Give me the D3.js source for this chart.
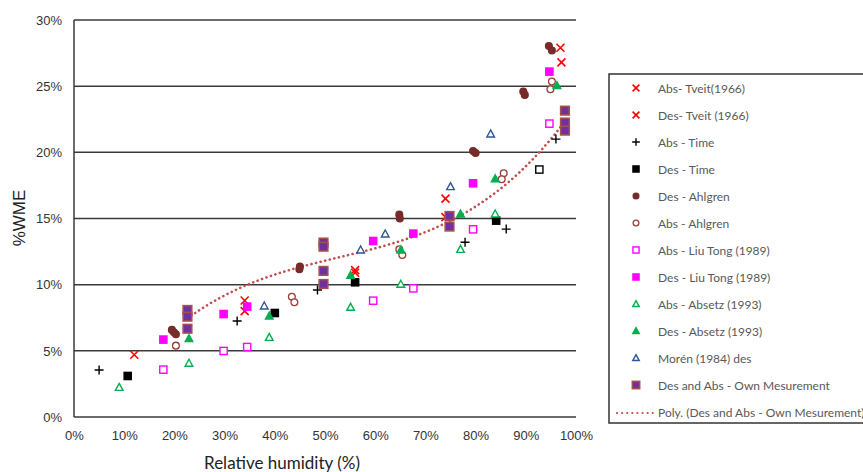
<!DOCTYPE html>
<html>
<head>
<meta charset="utf-8">
<script src="https://cdn.jsdelivr.net/npm/d3@7"></script>
<style>
  html, body { margin: 0; padding: 0; background: #fff; }
  svg { display: block; }
</style>
</head>
<body>
<svg id="chart" width="863" height="472"></svg>
<script>
// Equilibrium moisture content (%WME) versus relative humidity (%), [RH, WME]
const absTveit   = [[12, 4.7], [34, 8.0], [56, 10.9], [74, 15.1], [97.1, 26.8]];
const desTveit   = [[34, 8.8], [56, 11.1], [74, 16.5], [96.9, 27.9]];
const absTime    = [[5, 3.55], [32.5, 7.26], [48.5, 9.6], [77.9, 13.2], [86.1, 14.2], [96, 21.0]];
const desTime    = [[10.7, 3.1], [40, 7.86], [56, 10.18], [84.1, 14.84]];
const desTimeOpen = [[92.7, 18.7]];
const desAhlgren = [[19.5, 6.58], [19.9, 6.4], [20.3, 6.25], [45, 11.36], [44.9, 11.16],
                    [64.8, 15.29], [64.9, 15.0], [79.5, 20.1], [80, 19.95],
                    [89.5, 24.6], [89.8, 24.34], [94.6, 28.04], [95.2, 27.69]];
const absAhlgren = [[20.3, 5.39], [43.4, 9.09], [43.9, 8.67], [64.8, 12.67], [65.4, 12.24],
                    [85.6, 18.42], [85.2, 17.97], [95.2, 25.35], [94.9, 24.77]];
const absLiuTong = [[17.8, 3.58], [29.8, 4.99], [34.5, 5.29], [59.6, 8.79], [67.6, 9.72],
                    [79.5, 14.18], [94.7, 22.17]];
const desLiuTong = [[17.8, 5.85], [29.8, 7.78], [34.5, 8.34], [59.6, 13.3], [67.6, 13.86],
                    [79.5, 17.66], [94.7, 26.1]];
const absAbsetz  = [[9, 2.24], [22.9, 4.06], [38.9, 6.02], [55.1, 8.29], [65.1, 10.03],
                    [77, 12.67], [83.9, 15.34]];
const desAbsetz  = [[22.9, 5.92], [38.9, 7.63], [55.1, 10.71], [65.1, 12.62], [77, 15.34],
                    [83.9, 18.0], [96.2, 25.04]];
const morenDes   = [[37.9, 8.39], [57.1, 12.62], [62, 13.83], [75, 17.41], [83, 21.39]];
const ownMeasure = [[22.6, 8.09], [22.6, 7.58], [22.6, 6.67],
                    [49.7, 13.18], [49.7, 12.87], [49.7, 11.04], [49.7, 10.05],
                    [74.8, 15.19], [74.8, 14.39],
                    [97.8, 23.15], [97.8, 22.25], [97.8, 21.64]];

const xTicks = [0, 10, 20, 30, 40, 50, 60, 70, 80, 90, 100];
const yTicks = [0, 5, 10, 15, 20, 25, 30];

const legendLabels = [
  "Abs- Tveit(1966)", "Des- Tveit (1966)", "Abs - Time", "Des - Time",
  "Des - Ahlgren", "Abs - Ahlgren", "Abs - Liu Tong (1989)", "Des - Liu Tong (1989)",
  "Abs - Absetz (1993)", "Des - Absetz (1993)", "Morén (1984) des",
  "Des and Abs - Own Mesurement", "Poly.  (Des and Abs - Own Mesurement)"
];

// marker styles
const series = [
  { data: absTveit,   shape: "x",      stroke: "#ff0000", fill: "none" },
  { data: desTveit,   shape: "x",      stroke: "#ff0000", fill: "none" },
  { data: absTime,    shape: "plus",   stroke: "#000000", fill: "none" },
  { data: desTime,    shape: "square", stroke: "#000000", fill: "#000000" },
  { data: desAhlgren, shape: "circle", stroke: "#772c2a", fill: "#772c2a" },
  { data: absAhlgren, shape: "circle", stroke: "#9c3f3c", fill: "#ffffff" },
  { data: absLiuTong, shape: "square", stroke: "#ff00ff", fill: "#ffffff" },
  { data: desLiuTong, shape: "square", stroke: "#ff00ff", fill: "#ff00ff" },
  { data: absAbsetz,  shape: "tri",    stroke: "#00b050", fill: "#ffffff" },
  { data: desAbsetz,  shape: "tri",    stroke: "#00b050", fill: "#00b050" },
  { data: morenDes,   shape: "tri",    stroke: "#2f5597", fill: "#ffffff" },
  { data: ownMeasure, shape: "square", stroke: "#a5504a", fill: "#7030a0", big: true }
];

const svg = d3.select("#chart");
const x = d3.scaleLinear().domain([0, 100]).range([74, 576]);
const y = d3.scaleLinear().domain([0, 30]).range([417, 20]);

// horizontal gridlines
svg.append("g")
  .selectAll("line")
  .data(yTicks)
  .join("line")
  .attr("x1", x(0)).attr("x2", x(100))
  .attr("y1", d => y(d)).attr("y2", d => y(d))
  .attr("stroke", "#3a3a3a").attr("stroke-width", 1.5);

// vertical axis line
svg.append("line")
  .attr("x1", x(0)).attr("x2", x(0)).attr("y1", y(0)).attr("y2", y(30))
  .attr("stroke", "#3a3a3a").attr("stroke-width", 1.5);

const yAxis = svg.append("g")
  .attr("transform", `translate(${x(0)},0)`)
  .call(d3.axisLeft(y).tickValues(yTicks).tickSize(0).tickPadding(12).tickFormat(d => d + "%"));
const xAxis = svg.append("g")
  .attr("transform", `translate(0,${y(0)})`)
  .call(d3.axisBottom(x).tickValues(xTicks).tickSize(0).tickPadding(14).tickFormat(d => d + "%"));
[yAxis, xAxis].forEach(g => {
  g.select(".domain").remove();
  g.selectAll("text")
    .attr("font-family", "'Liberation Sans', Arial, sans-serif")
    .attr("font-size", 13).attr("fill", "#333");
});

// axis titles
svg.append("text")
  .attr("x", 282).attr("y", 469)
  .attr("text-anchor", "middle")
  .attr("font-family", "Lato, 'Open Sans', sans-serif")
  .attr("font-size", 17).attr("fill", "#222")
  .text("Relative humidity (%)");
svg.append("text")
  .attr("transform", "translate(25,218) rotate(-90)")
  .attr("text-anchor", "middle")
  .attr("font-family", "'Liberation Sans', Arial, sans-serif")
  .attr("font-size", 17).attr("fill", "#222")
  .text("%WME");

// marker drawing
function drawMarker(g, s, scale) {
  const k = scale || 1;
  if (s.shape === "x") {
    const r = 4 * k;
    g.append("path").attr("d", `M${-r},${-r}L${r},${r}M${-r},${r}L${r},${-r}`)
      .attr("stroke", s.stroke).attr("stroke-width", 1.6).attr("fill", "none");
  } else if (s.shape === "plus") {
    const r = 4.5 * k;
    g.append("path").attr("d", `M${-r},0L${r},0M0,${-r}L0,${r}`)
      .attr("stroke", s.stroke).attr("stroke-width", 1.4).attr("fill", "none");
  } else if (s.shape === "square") {
    const r = (s.big ? 4.3 : 3.6) * k;
    g.append("rect").attr("x", -r).attr("y", -r).attr("width", 2 * r).attr("height", 2 * r)
      .attr("fill", s.fill).attr("stroke", s.stroke).attr("stroke-width", s.big ? 1.6 : 1.4);
  } else if (s.shape === "circle") {
    g.append("circle").attr("r", 3.4 * k)
      .attr("fill", s.fill).attr("stroke", s.stroke).attr("stroke-width", 1.3);
  } else if (s.shape === "tri") {
    const r = 4 * k;
    g.append("path").attr("d", `M0,${-r}L${r * 0.95},${r * 0.75}L${-r * 0.95},${r * 0.75}Z`)
      .attr("fill", s.fill).attr("stroke", s.stroke).attr("stroke-width", 1.4)
      .attr("stroke-linejoin", "miter");
  }
}

// polynomial trend (order 3, least squares) of own measurements
function polyFit(pts, order) {
  const n = order + 1;
  const A = Array.from({ length: n }, () => new Array(n + 1).fill(0));
  pts.forEach(([px, py]) => {
    const t = px / 100;
    for (let i = 0; i < n; i++) {
      for (let j = 0; j < n; j++) A[i][j] += Math.pow(t, i + j);
      A[i][n] += py * Math.pow(t, i);
    }
  });
  for (let c = 0; c < n; c++) {
    let p = c;
    for (let r = c + 1; r < n; r++) if (Math.abs(A[r][c]) > Math.abs(A[p][c])) p = r;
    [A[c], A[p]] = [A[p], A[c]];
    for (let r = 0; r < n; r++) {
      if (r === c) continue;
      const f = A[r][c] / A[c][c];
      for (let k = c; k <= n; k++) A[r][k] -= f * A[c][k];
    }
  }
  const coef = A.map((row, i) => row[n] / row[i]);
  return xv => coef.reduce((s, cf, i) => s + cf * Math.pow(xv / 100, i), 0);
}
const fit = polyFit(ownMeasure, 3);
const xs = ownMeasure.map(d => d[0]);
const trend = d3.range(d3.min(xs), d3.max(xs) + 0.01, 0.5).map(v => [v, fit(v)]);

svg.append("path")
  .datum(trend)
  .attr("d", d3.line().x(d => x(d[0])).y(d => y(d[1])))
  .attr("fill", "none").attr("stroke", "#c0504d").attr("stroke-width", 2.6)
  .attr("stroke-linecap", "round").attr("stroke-dasharray", "0.1 4.6");

// data points
series.forEach(s => {
  svg.append("g").selectAll("g")
    .data(s.data)
    .join("g")
    .attr("transform", d => `translate(${x(d[0])},${y(d[1])})`)
    .each(function () { drawMarker(d3.select(this), s); });
});
svg.append("g").selectAll("g")
  .data(desTimeOpen)
  .join("g")
  .attr("transform", d => `translate(${x(d[0])},${y(d[1])})`)
  .each(function () { drawMarker(d3.select(this), { shape: "square", stroke: "#000", fill: "#fff" }); });

// legend
const lg = svg.append("g");
lg.append("rect")
  .attr("x", 609).attr("y", 74).attr("width", 300).attr("height", 349)
  .attr("fill", "#fff").attr("stroke", "#333").attr("stroke-width", 1.5);
legendLabels.forEach((label, i) => {
  const ly = 89 + i * 27;
  const row = lg.append("g");
  if (i < series.length) {
    const m = row.append("g").attr("transform", `translate(636,${ly - 1})`);
    drawMarker(m, series[i], 0.85);
  } else {
    row.append("line")
      .attr("x1", 617).attr("x2", 653).attr("y1", ly).attr("y2", ly)
      .attr("stroke", "#c0504d").attr("stroke-width", 2.2)
      .attr("stroke-linecap", "round").attr("stroke-dasharray", "0.1 5");
  }
  row.append("text")
    .attr("x", 658).attr("y", ly).attr("dy", "0.35em")
    .attr("font-family", "Lato, 'Open Sans', sans-serif")
    .attr("font-size", 12).attr("fill", "#595959")
    .text(label);
});
</script>
</body>
</html>
